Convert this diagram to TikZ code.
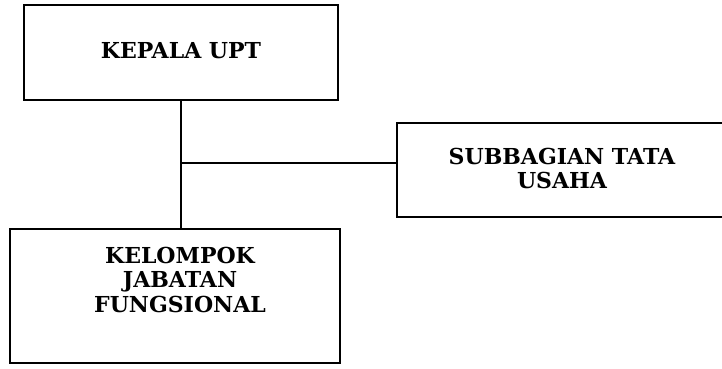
\documentclass[tikz,border=0pt]{standalone}
\usepackage{fontspec}
\setmainfont{DejaVu Serif}
\usetikzlibrary{calc}
\begin{document}
\begin{tikzpicture}[x=1pt,y=1pt,
  box/.style={draw=black, line width=2.8pt, rectangle, inner sep=0pt},
  lbl/.style={align=center, font=\fontsize{22}{24.5}\selectfont\bfseries, inner sep=0pt},
  conn/.style={draw=black, line width=2.8pt}]
\useasboundingbox (0,0) rectangle (722,-369);
\fill[white] (0,0) rectangle (722,-369);
\node[box, minimum width=314pt, minimum height=95pt] (kep) at (181,-52.5) {};
\node[lbl] (kept) at (181,-50.5) {KEPALA UPT};
\node[box, minimum width=327pt, minimum height=94pt] (sub) at (560.5,-170) {};
\node[lbl] (subt) at (562,-168.5) {SUBBAGIAN TATA\\USAHA};
\node[box, minimum width=330pt, minimum height=134pt] (kel) at (175,-296) {};
\node[lbl] (kelt) at (180,-279.5) {KELOMPOK\\JABATAN\\FUNGSIONAL};
\coordinate (j) at (181,-163);
\draw[conn] (kep.south -| j) -- (kel.north -| j);
\draw[conn] (j) -- (j -| sub.west);
\end{tikzpicture}
\end{document}
